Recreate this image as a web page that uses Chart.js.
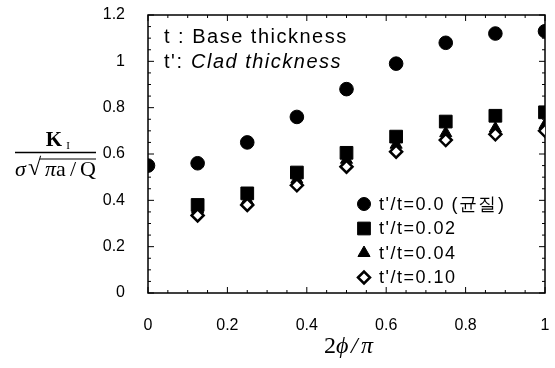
<!DOCTYPE html>
<html>
<head>
<meta charset="utf-8">
<script src="https://cdn.jsdelivr.net/npm/chart.js@4"></script>
<style>
  html, body { margin: 0; padding: 0; background: #fff; }
  #wrap { width: 555px; height: 368px; position: relative; }
</style>
</head>
<body>
<div id="wrap"><canvas id="chart" width="555" height="368"></canvas></div>
<script>
// data
const xVals = [0, 0.125, 0.25, 0.375, 0.5, 0.625, 0.75, 0.875, 1];
const xSub = [0.125, 0.25, 0.375, 0.5, 0.625, 0.75, 0.875, 1];
const kHomog = [0.55, 0.56, 0.65, 0.76, 0.88, 0.99, 1.08, 1.12, 1.13];
const kClad002 = [0.38, 0.43, 0.52, 0.605, 0.675, 0.74, 0.765, 0.78];
const kClad004 = [0.36, 0.40, 0.49, 0.575, 0.64, 0.69, 0.71, 0.725];
const kClad010 = [0.335, 0.38, 0.465, 0.545, 0.61, 0.66, 0.685, 0.70];
const seriesLabels = ["t'/t=0.0 (균질)", "t'/t=0.02", "t'/t=0.04", "t'/t=0.10"];
const yTicks = [0, 0.2, 0.4, 0.6, 0.8, 1, 1.2];
const xTicks = [0, 0.2, 0.4, 0.6, 0.8, 1];

function pts(xs, ys) {
    return xs.map((x, i) => ({ x: x, y: ys[i] }));
}

const SANS = '"Liberation Sans", Arial, sans-serif';
const SERIF = '"Liberation Serif", "Times New Roman", serif';

// scales shouldn't push the plot area around for their labels
function noPad(s) {
    s.paddingTop = 0; s.paddingBottom = 0;
    s.paddingLeft = 0; s.paddingRight = 0;
}

// frame with inward ticks, custom legend, annotation text, axis titles
const decor = {
    id: 'decor',
    beforeDatasetsDraw(chart) {
        const { ctx, chartArea: a, scales: { x, y } } = chart;
        ctx.save();
        ctx.strokeStyle = '#000';
        ctx.lineWidth = 1.5;
        ctx.strokeRect(a.left, a.top, a.right - a.left, a.bottom - a.top);
        ctx.lineWidth = 1;
        ctx.beginPath();
        for (let i = 0; i <= 24; i++) {
            const py = y.getPixelForValue(i * 0.05);
            const len = i % 4 === 0 ? 6 : 3;
            ctx.moveTo(a.left, py); ctx.lineTo(a.left + len, py);
            ctx.moveTo(a.right, py); ctx.lineTo(a.right - len, py);
        }
        for (let i = 0; i <= 20; i++) {
            const px = x.getPixelForValue(i * 0.05);
            const len = i % 4 === 0 ? 6 : 3;
            ctx.moveTo(px, a.bottom); ctx.lineTo(px, a.bottom - len);
            ctx.moveTo(px, a.top); ctx.lineTo(px, a.top + len);
        }
        ctx.stroke();
        ctx.restore();
    },
    afterDraw(chart) {
        const { ctx } = chart;
        ctx.save();
        ctx.fillStyle = '#000';
        ctx.textBaseline = 'middle';
        ctx.letterSpacing = '1.5px';

        // note in upper left
        ctx.font = '20px ' + SANS;
        ctx.fillText('t : Base thickness', 164, 37);
        ctx.fillText("t':", 164, 62);
        ctx.font = 'italic 20px ' + SANS;
        ctx.fillText('Clad thickness', 191, 62);

        // legend
        ctx.font = '18px ' + SANS;
        chart.data.datasets.forEach((ds, i) => {
            const cy = 204 + i * 24.5;
            ctx.fillStyle = ds.backgroundColor;
            ctx.strokeStyle = '#000';
            ctx.lineWidth = ds.borderWidth;
            Chart.helpers.drawPoint(ctx, {
                pointStyle: ds.pointStyle,
                radius: ds.legendRadius,
                borderWidth: ds.borderWidth
            }, 364, cy);
            ctx.fillStyle = '#000';
            ctx.fillText(ds.label, 379, cy + 1);
        });
        ctx.letterSpacing = '0px';

        // y-axis title: K_I / (sigma sqrt(pi a / Q))
        ctx.textAlign = 'center';
        ctx.font = 'bold 21px ' + SERIF;
        ctx.fillText('K', 54, 141);
        ctx.font = '11px ' + SERIF;
        ctx.fillText('I', 68, 146);
        ctx.lineWidth = 1.5;
        ctx.beginPath();
        ctx.moveTo(15, 152.5); ctx.lineTo(96, 152.5);
        ctx.stroke();
        ctx.textAlign = 'left';
        ctx.font = 'italic 22px ' + SERIF;
        ctx.fillText('σ', 15, 170);
        ctx.font = '24px ' + SERIF;
        ctx.fillText('√', 28, 169);
        ctx.lineWidth = 1.2;
        ctx.beginPath();
        ctx.moveTo(40, 159); ctx.lineTo(96, 159);
        ctx.stroke();
        ctx.font = 'italic 22px ' + SERIF;
        ctx.fillText('π', 45, 170);
        ctx.font = '22px ' + SERIF;
        ctx.fillText('a', 56, 170);
        ctx.fillText('/', 70, 170);
        ctx.fillText('Q', 80, 170);

        // x-axis title
        ctx.font = '24px ' + SERIF;
        ctx.fillText('2', 324, 347);
        ctx.font = 'italic 24px ' + SERIF;
        ctx.fillText('ϕ', 336, 347);
        ctx.fillText('/', 351, 347);
        ctx.fillText('π', 361, 347);
        ctx.restore();
    }
};

new Chart(document.getElementById('chart'), {
    type: 'scatter',
    data: {
        datasets: [{
            label: seriesLabels[0],
            data: pts(xVals, kHomog),
            pointStyle: 'circle',
            pointRadius: 6.8,
            legendRadius: 6.5,
            backgroundColor: '#000',
            borderColor: '#000',
            borderWidth: 1,
            order: 3
        }, {
            label: seriesLabels[1],
            data: pts(xSub, kClad002),
            pointStyle: 'rect',
            pointRadius: 9,
            legendRadius: 9,
            backgroundColor: '#000',
            borderColor: '#000',
            borderWidth: 1,
            order: 2
        }, {
            label: seriesLabels[2],
            data: pts(xSub, kClad004),
            pointStyle: 'triangle',
            pointRadius: 7,
            legendRadius: 7,
            backgroundColor: '#000',
            borderColor: '#000',
            borderWidth: 1,
            order: 1
        }, {
            label: seriesLabels[3],
            data: pts(xSub, kClad010),
            pointStyle: 'rectRot',
            pointRadius: 6,
            legendRadius: 6,
            backgroundColor: '#fff',
            borderColor: '#000',
            borderWidth: 2.5,
            order: 0
        }]
    },
    options: {
        responsive: false,
        animation: false,
        layout: { padding: { left: 0, right: 4, top: 15, bottom: 0 } },
        plugins: {
            legend: { display: false },
            tooltip: { enabled: false }
        },
        scales: {
            x: {
                type: 'linear',
                min: 0,
                max: 1,
                afterBuildTicks: s => { s.ticks = xTicks.map(v => ({ value: v })); },
                afterFit: s => { s.height = 75; noPad(s); },
                grid: { display: true, drawOnChartArea: false, drawTicks: true, tickLength: 23, tickColor: 'rgba(0,0,0,0)' },
                border: { display: false },
                ticks: {
                    padding: 0,
                    color: '#000',
                    font: { family: SANS, size: 16 },
                    callback: v => String(Math.round(v * 10) / 10)
                }
            },
            y: {
                min: 0,
                max: 1.2,
                afterBuildTicks: s => { s.ticks = yTicks.map(v => ({ value: v })); },
                afterFit: s => { s.width = 148; noPad(s); },
                grid: { display: false },
                border: { display: false },
                ticks: {
                    padding: 15,
                    color: '#000',
                    font: { family: SANS, size: 16 },
                    callback: v => String(Math.round(v * 10) / 10)
                }
            }
        }
    },
    plugins: [decor]
});
</script>
</body>
</html>
